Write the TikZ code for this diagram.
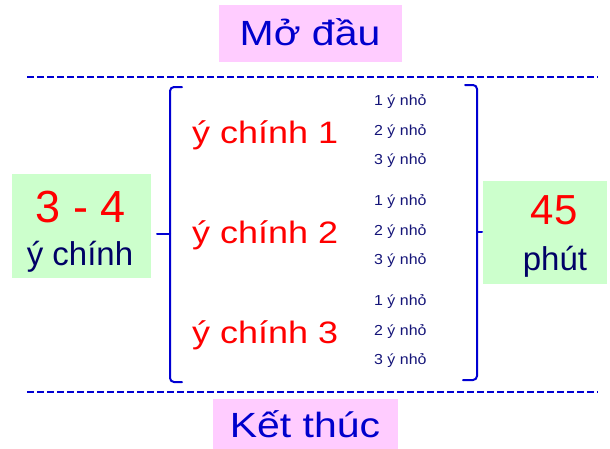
\documentclass[tikz,border=0pt]{standalone}
\usepackage{fontspec}
\setmainfont{Liberation Sans}
\newfontfamily\titlefont[FakeStretch=1.17]{Liberation Sans}
\newfontfamily\ideafont[FakeStretch=1.16]{Liberation Sans}
\newfontfamily\subfont[FakeStretch=1.1]{Liberation Sans}
\definecolor{pinkbg}{RGB}{255,204,255}
\definecolor{greenbg}{RGB}{204,255,204}
\definecolor{titleblue}{RGB}{0,0,204}
\definecolor{navy}{RGB}{0,0,102}
\definecolor{smallnavy}{RGB}{20,20,120}
\definecolor{linkblue}{RGB}{0,0,210}
\begin{document}
\begin{tikzpicture}[x=1pt,y=-1pt,
  txt/.style={inner sep=0pt,anchor=base},
  title/.style={txt,text=titleblue,font=\titlefont\fontsize{35}{40}\selectfont},
  mainidea/.style={txt,anchor=base west,text=red,font=\ideafont\fontsize{31}{36}\selectfont},
  subidea/.style={txt,anchor=base west,text=smallnavy,font=\subfont\fontsize{14.5}{16}\selectfont},
  sep/.style={linkblue,line width=2.2pt,dash pattern=on 7pt off 3pt},
  brace/.style={linkblue,line width=2pt,rounded corners=4pt,line cap=round}]
\useasboundingbox (0,0) rectangle (610,448);

% coloured panels
\fill[pinkbg] (219,5) rectangle (402,62);
\fill[pinkbg] (213,399) rectangle (398,452);
\fill[greenbg] (12,174) rectangle (151,278);
\fill[greenbg] (483,181) rectangle (607,284);

% titles
\node[title] (open) at (310,45) {Mở đầu};
\node[title] (close) at (305,437) {Kết thúc};

% section separators
\coordinate (tl) at (27,77);  \coordinate (tr) at (598,77);
\coordinate (bl) at (27,392); \coordinate (br) at (598,392);
\draw[sep] (tl) -- (tr);
\draw[sep] (bl) -- (br);

% left summary
\node[txt,text=red,font=\fontsize{45}{50}\selectfont] (count) at (81,222) {3 - 4};
\node[txt,text=navy,font=\fontsize{33}{38}\selectfont] (countlbl) at (80,265) {ý chính};

% right summary
\node[txt,text=red,font=\fontsize{42}{48}\selectfont] (time) at (554,224) {45};
\node[txt,text=navy,font=\fontsize{33}{38}\selectfont] (timelbl) at (555,270) {phút};

% braces
\coordinate (lt) at (182,87);  \coordinate (lb) at (182,382);
\coordinate (lm) at (170,234); \coordinate (lk) at (157,234);
\draw[brace] (lt) -- (170,87) -- (170,382) -- (lb);
\draw[brace] (lm) -- (lk);
\coordinate (rt) at (465,85);  \coordinate (rb) at (463,380);
\coordinate (rm) at (477,232); \coordinate (rk) at (482,232);
\draw[brace] (rt) -- (477,85) -- (477,380) -- (rb);
\draw[brace] (rm) -- (rk);

% main ideas
\node[mainidea] (m1) at (192,143) {ý chính 1};
\node[mainidea] (m2) at (192,243) {ý chính 2};
\node[mainidea] (m3) at (192,343) {ý chính 3};

% sub ideas
\foreach \g/\y in {1/105,2/205,3/305}{
  \node[subidea] (s\g a) at (374,\y) {1 ý nhỏ};
  \node[subidea] (s\g b) at (374,\y+30) {2 ý nhỏ};
  \node[subidea] (s\g c) at (374,\y+59) {3 ý nhỏ};
}
\end{tikzpicture}
\end{document}
